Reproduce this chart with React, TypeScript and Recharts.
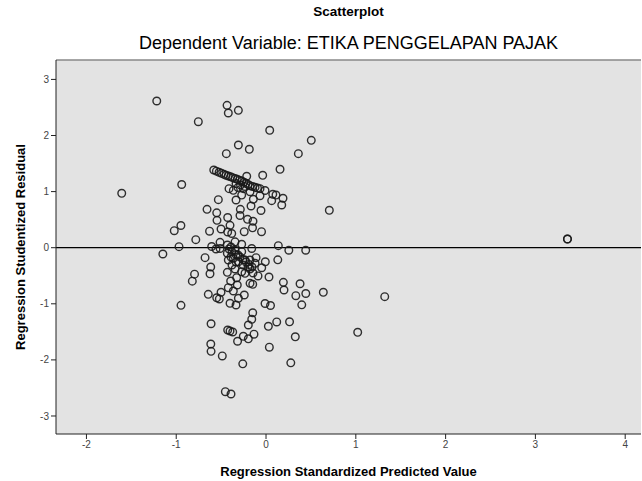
import React from "react";
import {
  ScatterChart,
  Scatter,
  XAxis,
  YAxis,
  CartesianGrid,
  ReferenceLine,
} from "recharts";

// Regression Standardized Predicted Value
const predicted = [
  -1.217, -0.434, -0.42, -0.308, -0.754, 0.041, 0.504, 0.36, -0.308, -0.186,
  -0.442, 0.156, -0.037, -0.215, -0.939, -1.607, 0.705,
  -0.582, -0.523, -0.468, -0.42, -0.371, -0.32, -0.271, -0.223, -0.178, -0.122,
  -0.067, -0.011, -0.412, -0.364, -0.253, -0.271, -0.178, -0.067, -0.141, 0.075,
  0.111, 0.189, 0.175, 0.063, -0.531, -0.334, -0.167, -0.056, -0.286, -0.657,
  -0.549, -0.546, -0.427, -0.29, -0.206, -0.145, -0.401, -0.948, -1.022, -0.629,
  -0.501, -0.427, -0.382, -0.243, -0.15, -0.05, -0.782, -0.969, -1.149, -0.605,
  -0.557, -0.512, -0.512, -0.431, -0.345, -0.271, -0.159, 0.137, 0.254, 0.442,
  3.357, 3.357,
  -0.679, -0.616, -0.624, -0.796, -0.821, -0.947, -0.431, -0.345, -0.271, -0.42,
  -0.364, -0.308, -0.234, -0.178, -0.111, -0.008, -0.048, -0.122, -0.178, -0.271,
  -0.234, -0.345, -0.431, -0.327, -0.394, -0.32, -0.42, -0.364, -0.501, -0.643,
  -0.549, -0.52, -0.242, -0.308, -0.401, -0.334, -0.178, -0.148, 0.033, 0.131,
  0.193, 0.2, 0.379, 0.332, 0.443, 0.638, 0.398, -0.011, 0.05, 1.322, 1.021,
  -0.148, -0.159, -0.197, -0.612, -0.427, -0.401, -0.371, -0.253, -0.197, -0.134,
  -0.317, 0.026, 0.119, 0.262, 0.326, 0.037, -0.615, -0.612, -0.487, -0.259,
  0.276, -0.453, -0.39,
  -0.39, -0.312, -0.256, -0.2, -0.145, -0.379, -0.089,
  // dense upper band
  -0.553, -0.496, -0.445, -0.395, -0.345, -0.295, -0.245, -0.2, -0.15, -0.095,
  -0.334, -0.284, -0.234, -0.312,
  // dense lower band
  -0.412, -0.379, -0.334, -0.29, -0.256, -0.223, -0.189, -0.156, -0.334, -0.39,
];

// Regression Studentized Residual
const residual = [
  2.615, 2.538, 2.401, 2.449, 2.246, 2.093, 1.914, 1.676, 1.831, 1.754,
  1.676, 1.398, 1.291, 1.273, 1.127, 0.97, 0.667,
  1.385, 1.344, 1.308, 1.278, 1.248, 1.219, 1.189, 1.148, 1.105, 1.077,
  1.052, 1.02, 1.052, 1.023, 1.052, 0.939, 0.998, 0.927, 0.863, 0.952,
  0.939, 0.881, 0.761, 0.838, 0.856, 0.85, 0.743, 0.663, 0.684, 0.684,
  0.622, 0.488, 0.538, 0.574, 0.506, 0.471, 0.399, 0.396, 0.303, 0.294,
  0.333, 0.28, 0.253, 0.285, 0.355, 0.285, 0.143, 0.018, -0.112, 0.021,
  -0.023, -0.014, 0.096, 0.048, 0.105, 0.061, -0.014, 0.036, -0.045, -0.045,
  0.155, 0.155,
  -0.178, -0.344, -0.465, -0.472, -0.597, -1.027, -0.1, -0.041, -0.071, -0.219,
  -0.189, -0.25, -0.219, -0.219, -0.178, -0.25, -0.357, -0.278, -0.38, -0.428,
  -0.456, -0.38, -0.439, -0.535, -0.594, -0.665, -0.713, -0.772, -0.795, -0.831,
  -0.893, -0.914, -0.843, -0.902, -0.991, -1.021, -0.635, -0.652, -0.522, -0.216,
  -0.617, -0.754, -0.643, -0.856, -0.816, -0.795, -1.018, -0.995, -1.03, -0.873, -1.508,
  -1.16, -1.276, -1.378, -1.356, -1.467, -1.485, -1.503, -1.579, -1.624, -1.542,
  -1.668, -1.401, -1.324, -1.321, -1.588, -1.774, -1.717, -1.847, -1.93, -2.07,
  -2.052, -2.567, -2.608,
  0.012, -0.13, -0.308, -0.344, -0.451, -0.308, -0.504,
  // dense upper band
  1.364, 1.326, 1.292, 1.264, 1.234, 1.203, 1.168, 1.127, 1.091, 1.064,
  1.144, 1.118, 1.091, 1.073,
  // dense lower band
  -0.023, -0.077, -0.121, -0.166, -0.21, -0.255, -0.299, -0.344, -0.255, -0.166,
];

const xTicks = [-2, -1, 0, 1, 2, 3, 4];
const yTicks = [-3, -2, -1, 0, 1, 2, 3];
const xDomain = [-2.339, 4.176];
const yDomain = [-3.321, 3.346];

const points = predicted.map((x, i) => ({ x, y: residual[i] }));

const font = "'Liberation Sans', Arial, sans-serif";

const Ring = (props: any) => (
  <circle
    cx={props.cx}
    cy={props.cy}
    r={3.8}
    fill="none"
    stroke="#1a1a1a"
    strokeOpacity={0.9}
    strokeWidth={1.4}
  />
);

export default function App() {
  return (
    <div
      style={{
        position: "absolute",
        left: 0,
        top: 0,
        width: 642,
        height: 481,
        background: "#fff",
        fontFamily: font,
      }}
    >
      <div
        style={{
          position: "absolute",
          left: 56,
          width: 585,
          top: 4,
          textAlign: "center",
          fontSize: 13.5,
          fontWeight: "bold",
          color: "#000",
        }}
      >
        Scatterplot
      </div>
      <div
        style={{
          position: "absolute",
          left: 56,
          width: 585,
          top: 33,
          textAlign: "center",
          fontSize: 18,
          color: "#000",
        }}
      >
        Dependent Variable: ETIKA PENGGELAPAN PAJAK
      </div>
      <ScatterChart
        width={642}
        height={481}
        margin={{ top: 60, right: 1, bottom: 0, left: 0 }}
        style={{ fontFamily: font }}
      >
        <CartesianGrid
          fill="#e3e3e3"
          stroke="none"
          horizontal={false}
          vertical={false}
        />
        <XAxis
          type="number"
          dataKey="x"
          domain={xDomain}
          ticks={xTicks}
          allowDataOverflow
          height={47}
          tickSize={5}
          stroke="#222"
          tick={{ fontSize: 10, fill: "#444" }}
          label={{
            value: "Regression Standardized Predicted Value",
            position: "insideBottom",
            offset: 5,
            style: { fontSize: 13, fontWeight: "bold", fill: "#000" },
          }}
        />
        <YAxis
          type="number"
          dataKey="y"
          domain={yDomain}
          ticks={yTicks}
          allowDataOverflow
          width={56}
          tickSize={5}
          stroke="#222"
          tick={{ fontSize: 10, fill: "#444" }}
          label={{
            value: "Regression Studentized Residual",
            angle: -90,
            position: "insideLeft",
            offset: 20,
            style: {
              fontSize: 13,
              fontWeight: "bold",
              fill: "#000",
              textAnchor: "middle",
            },
          }}
        />
        <ReferenceLine y={yDomain[1]} stroke="#888" strokeWidth={1.5} />
        <ReferenceLine y={0} stroke="#000" strokeWidth={1.2} />
        <Scatter data={points} shape={Ring} isAnimationActive={false} />
      </ScatterChart>
    </div>
  );
}
